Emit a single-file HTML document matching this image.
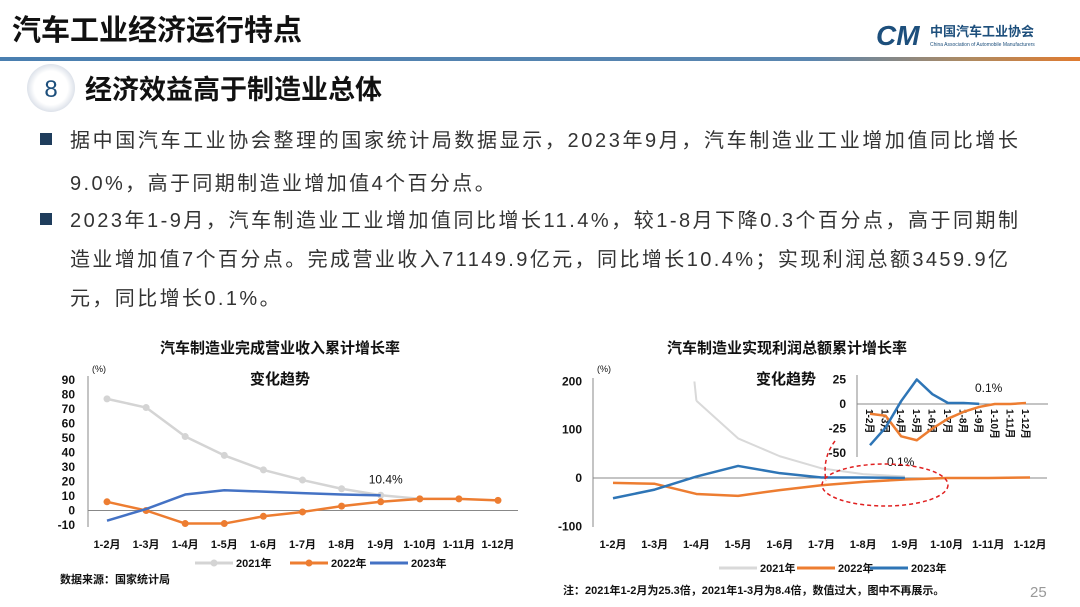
<!DOCTYPE html>
<html><head><meta charset="utf-8">
<style>
body{margin:0;width:1080px;height:607px;overflow:hidden;background:#fff;font-family:"Liberation Sans","Noto Sans CJK SC",sans-serif;}
svg{position:absolute;left:0;top:0}
.t{font-family:"Liberation Sans","Noto Sans CJK SC",sans-serif;}
</style></head>
<body>
<svg id="s" width="1080" height="607" xmlns="http://www.w3.org/2000/svg">
<defs>
<linearGradient id="lg" x1="0" x2="1">
<stop offset="0" stop-color="#4a7fb0"/><stop offset="0.75" stop-color="#5a86b0"/><stop offset="0.9" stop-color="#b08a60"/><stop offset="1" stop-color="#e07b30"/>
</linearGradient>
<radialGradient id="cg"><stop offset="0.7" stop-color="#fff"/><stop offset="1" stop-color="#dde2ea"/></radialGradient>
</defs>
<text class="t" x="12" y="40" font-size="29" font-weight="bold" fill="#111">汽车工业经济运行特点</text>
<g>
<text x="876" y="45" font-size="28" font-weight="bold" font-style="italic" fill="#1d4f7c" class="t">CM</text>
<text class="t" x="930" y="36" font-size="13" font-weight="bold" fill="#1d4f7c">中国汽车工业协会</text>
<text class="t" x="930" y="46" font-size="5" fill="#1d4f7c">China Association of Automobile Manufacturers</text>
</g>
<rect x="0" y="57" width="1080" height="4" fill="url(#lg)"/>
<circle cx="51" cy="88" r="24" fill="url(#cg)"/>
<text class="t" x="51" y="97" font-size="24" fill="#1d4f7c" text-anchor="middle">8</text>
<text class="t" x="85" y="99" font-size="27" font-weight="bold" fill="#111">经济效益高于制造业总体</text>
<g font-size="20" fill="#333" class="t">
<rect x="40" y="133" width="12" height="12" fill="#1f3d5c"/>
<text x="70" y="147" textLength="948" lengthAdjust="spacing">据中国汽车工业协会整理的国家统计局数据显示，2023年9月，汽车制造业工业增加值同比增长</text>
<text x="70" y="190" letter-spacing="2.4">9.0%，高于同期制造业增加值4个百分点。</text>
<rect x="40" y="213" width="12" height="12" fill="#1f3d5c"/>
<text x="70" y="227" textLength="948" lengthAdjust="spacing">2023年1-9月，汽车制造业工业增加值同比增长11.4%，较1-8月下降0.3个百分点，高于同期制</text>
<text x="70" y="266" textLength="938" lengthAdjust="spacing">造业增加值7个百分点。完成营业收入71149.9亿元，同比增长10.4%；实现利润总额3459.9亿</text>
<text x="70" y="305" letter-spacing="2.4">元，同比增长0.1%。</text>
</g>
<g class="t" font-weight="bold" font-size="15" fill="#111" text-anchor="middle">
<text x="280" y="353">汽车制造业完成营业收入累计增长率</text>
<text x="280" y="384">变化趋势</text>
<text x="787" y="353">汽车制造业实现利润总额累计增长率</text>
<text x="786" y="384">变化趋势</text>
</g>
<g id="L"></g><g id="R"></g><g id="I"></g>
<text class="t" x="60" y="583" font-size="11" font-weight="bold" fill="#111">数据来源：国家统计局</text>
<text class="t" x="563" y="594" font-size="11" font-weight="bold" fill="#111">注：2021年1-2月为25.3倍，2021年1-3月为8.4倍，数值过大，图中不再展示。</text>
<text class="t" x="1030" y="597" font-size="15" fill="#999">25</text>
<ellipse cx="885" cy="485" rx="63" ry="21" fill="none" stroke="#e02020" stroke-width="1.5" stroke-dasharray="4,3"/>
<path d="M835 441 Q822 458 826 481" fill="none" stroke="#e02020" stroke-width="1.5" stroke-dasharray="4,3"/>
</svg>
<script>
const cats=["1-2月","1-3月","1-4月","1-5月","1-6月","1-7月","1-8月","1-9月","1-10月","1-11月","1-12月"];
const revTicks=[90,80,70,60,50,40,30,20,10,0,-10];
const rev2021=[77,71,51,38,28,21,15,10.5,8];
const rev2022=[6,0,-9,-9,-4,-1,3,6,8,8,7];
const rev2023=[-7,1,11,14,13,12,11,10.4];
const profTicks=[200,100,0,-100];
const prof2021=[null,null,160,82,45,20,8,3];
const prof2022=[-10,-12,-33,-37,-25,-15,-8,-3,0,0,1];
const prof2023=[-42,-24,3,25,10,1,1,0.1];
const insetTicks=[25,0,-25,-50];
const NS="http://www.w3.org/2000/svg";
function mk(p,tag,a){const e=document.createElementNS(NS,tag);for(const k in a)e.setAttribute(k,a[k]);p.appendChild(e);return e;}
function txt(p,x,y,s,o){const e=mk(p,'text',Object.assign({x:x,y:y,'font-size':12,'font-weight':'bold',fill:'#111','class':'t'},o||{}));e.textContent=s;return e;}
function line(p,vals,X,Y,color,w,marker,name){
  const pts=[];vals.forEach((v,i)=>{if(v!==null)pts.push([X(i),Y(v)]);});
  const pl=mk(p,'polyline',{points:pts.map(q=>q.join(',')).join(' '),fill:'none',stroke:color,'stroke-width':w,'stroke-linejoin':'round'});
  
  
  if(marker)pts.forEach(q=>{const c=mk(p,'circle',{cx:q[0],cy:q[1],r:3.5,fill:color});
  
  });
}
function legend(p,x,y,items){items.forEach(it=>{mk(p,'line',{x1:it[0],x2:it[0]+38,y1:y,y2:y,stroke:it[2],'stroke-width':3});
 if(it[3])mk(p,'circle',{cx:it[0]+19,cy:y,r:3.5,fill:it[2]});
 const t=txt(p,it[0]+41,y+4,it[1],{'font-size':11});
 
 });}
// Left chart
(function(){
const g=document.getElementById('L');
const X=i=>107+i*39.1, Y=v=>510.5-v*1.45;
mk(g,'line',{x1:88,y1:376,x2:88,y2:527,stroke:'#888'});
mk(g,'line',{x1:88,y1:Y(0),x2:518,y2:Y(0),stroke:'#888'});
txt(g,92,372,'(%)',{'font-size':9,'font-weight':'normal'});
revTicks.forEach(v=>txt(g,75,Y(v)+4,String(v),{'text-anchor':'end','font-size':12}));
cats.forEach((c,i)=>txt(g,X(i),548,c,{'text-anchor':'middle','font-size':11}));
line(g,rev2021,X,Y,'#d4d4d4',2.5,true,'line-2021');
line(g,rev2022,X,Y,'#ed7d31',2.5,true,'line-2022');
line(g,rev2023,X,Y,'#4472c4',2.5,false,'line-2023');
txt(g,X(7)-12,Y(rev2023[7])-12,'10.4%',{'font-size':12,'font-weight':'normal'});
legend(g,0,563,[[195,'2021年','#d4d4d4',1],[290,'2022年','#ed7d31',1],[370,'2023年','#4472c4',0]]);
})();
// Right chart
(function(){
const g=document.getElementById('R');
const X=i=>613+i*41.7, Y=v=>478-v*0.483;
mk(g,'line',{x1:593,y1:378,x2:593,y2:527,stroke:'#888'});
mk(g,'line',{x1:593,y1:Y(0),x2:1047,y2:Y(0),stroke:'#888'});
txt(g,597,372,'(%)',{'font-size':9,'font-weight':'normal'});
profTicks.forEach(v=>txt(g,582,Y(v)+4,String(v),{'text-anchor':'end','font-size':12}));
cats.forEach((c,i)=>txt(g,X(i),548,c,{'text-anchor':'middle','font-size':11}));
const cp=mk(g,'clipPath',{id:'rc'});mk(cp,'rect',{x:590,y:Y(200),width:470,height:200});
const gg=mk(g,'g',{'clip-path':'url(#rc)'});
mk(gg,'line',{x1:X(2)-2,y1:Y(200),x2:X(2),y2:Y(prof2021[2]),stroke:'#d9d9d9','stroke-width':2});
line(gg,prof2021,X,Y,'#d9d9d9',2,false,'line-2021');
line(g,prof2022,X,Y,'#ed7d31',2.5,false,'line-2022');
line(g,prof2023,X,Y,'#2e75b6',2.5,false,'line-2023');
txt(g,887,466,'0.1%',{'font-size':12,'font-weight':'normal'});
legend(g,0,568,[[719,'2021年','#d9d9d9',0],[797,'2022年','#ed7d31',0],[870,'2023年','#2e75b6',0]]);
})();
// Inset
(function(){
const g=document.getElementById('I');

const X=i=>870+i*15.6, Y=v=>404-v*0.98;
mk(g,'line',{x1:857,y1:375,x2:857,y2:457,stroke:'#888'});
mk(g,'line',{x1:857,y1:Y(0),x2:1048,y2:Y(0),stroke:'#888'});
insetTicks.forEach(v=>txt(g,846,Y(v)+4,String(v),{'text-anchor':'end','font-size':12}));
cats.forEach((c,i)=>{txt(g,0,0,c,{'text-anchor':'start','font-size':10,transform:'translate('+(X(i)-4)+',409) rotate(90)'});});
line(g,prof2022,X,Y,'#ed7d31',2.5,false,'inset-line-2022');
line(g,prof2023,X,Y,'#2e75b6',2.5,false,'inset-line-2023');
txt(g,975,392,'0.1%',{'font-size':12,'font-weight':'normal'});
})();
</script>
</body></html>
